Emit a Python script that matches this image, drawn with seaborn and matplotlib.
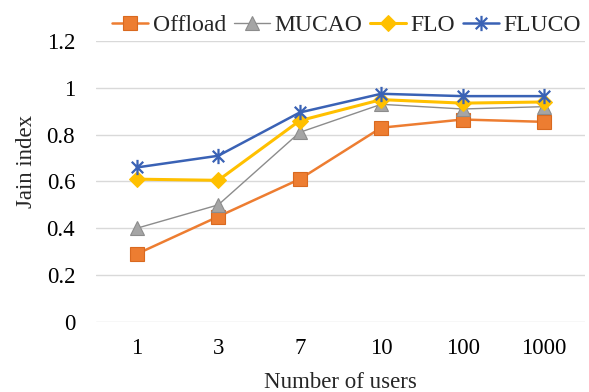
import matplotlib
matplotlib.use("Agg")
import matplotlib.pyplot as plt
from matplotlib.path import Path
import seaborn as sns
import pandas as pd

users = ["1", "3", "7", "10", "100", "1000"]
offload = [0.29, 0.45, 0.61, 0.83, 0.865, 0.855]
mucao = [0.40, 0.50, 0.81, 0.93, 0.91, 0.92]
flo = [0.61, 0.605, 0.86, 0.95, 0.935, 0.94]
fluco = [0.66, 0.71, 0.895, 0.975, 0.965, 0.965]
yticks = [0, 0.2, 0.4, 0.6, 0.8, 1.0, 1.2]
ytick_labels = ["0", "0.2", "0.4", "0.6", "0.8", "1", "1.2"]

sns.set_theme(style="white")
plt.rcParams["font.family"] = ["Liberation Serif", "DejaVu Serif"]

star = Path([(0, -1), (0, 1), (-0.75, -0.75), (0.75, 0.75), (-0.75, 0.75), (0.75, -0.75)],
            [Path.MOVETO, Path.LINETO, Path.MOVETO, Path.LINETO, Path.MOVETO, Path.LINETO])

fig = plt.figure(figsize=(5.89, 3.92), dpi=100)
ax = fig.add_axes([0.163, 0.179, 0.83, 0.716])

series = [
    ("Offload", offload, dict(color="#ED7D31", marker="s", markersize=10.5, markerfacecolor="#ED7D31",
                               markeredgecolor="#D9691F", markeredgewidth=0.8, linewidth=1.8)),
    ("MUCAO", mucao, dict(color="#8C8C8C", marker="^", markersize=10.5, markerfacecolor="#A5A5A5",
                           markeredgecolor="#8C8C8C", markeredgewidth=0.8, linewidth=1.0)),
    ("FLO", flo, dict(color="#FFC000", marker="D", markersize=8.5, markerfacecolor="#FFC000",
                       markeredgecolor="#FFC000", linewidth=2.2)),
    ("FLUCO", fluco, dict(color="#3A62B5", marker=star, markersize=11, markeredgecolor="#3A62B5",
                           markeredgewidth=1.6, linewidth=1.8)),
]

for name, vals, kw in series:
    df = pd.DataFrame({"users": users, "val": vals})
    sns.lineplot(data=df, x="users", y="val", ax=ax, label=name, sort=False, **kw)

ax.set_xlim(-0.5, 5.5)
ax.set_ylim(0, 1.2)
ax.set_yticks(yticks)
ax.set_yticklabels(ytick_labels)
ax.yaxis.grid(True, color="#D9D9D9", linewidth=1)
ax.xaxis.grid(False)
for s in ax.spines.values():
    s.set_visible(False)
ax.tick_params(axis="both", length=0, labelsize=16.5, colors="black")
ax.tick_params(axis="y", pad=15)
ax.tick_params(axis="x", pad=12)
ax.set_xlabel("Number of users", fontsize=16.5)
ax.xaxis.set_label_coords(0.5, -0.18)
ax.set_ylabel("Jain index", fontsize=16.5)
ax.yaxis.set_label_coords(-0.12, 0.573)
for l in ax.lines:
    l.set_clip_on(False)

ax.legend(loc="lower center", bbox_to_anchor=(0.513, 1.01), ncol=4, frameon=False,
          fontsize=17, handlelength=1.5, handletextpad=0.2, columnspacing=0.35, borderaxespad=0,
          borderpad=0.1)

fig.savefig("out.png", dpi=100)
